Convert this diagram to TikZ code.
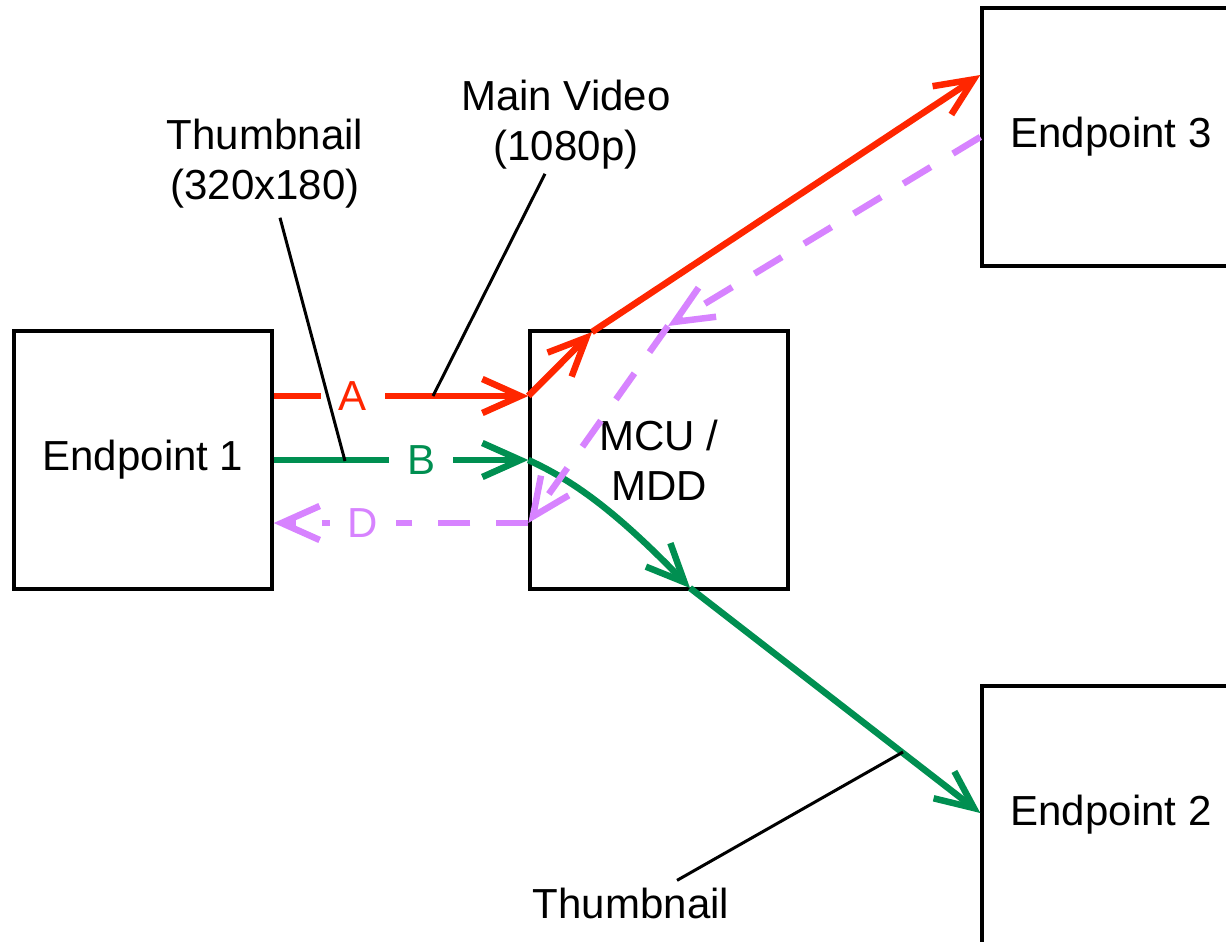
\documentclass[tikz,border=0pt]{standalone}
\usepackage{fontspec}
\setmainfont{Liberation Sans}
\usetikzlibrary{arrows.meta}
\definecolor{streamred}{HTML}{FF2600}
\definecolor{streamgreen}{HTML}{008F51}
\definecolor{streampurple}{HTML}{D783FF}
\begin{document}
\begin{tikzpicture}[x=1pt,y=-1pt,
  every node/.style={font=\fontsize{42}{50}\selectfont},
  box/.style={draw=black, line width=3.4pt, minimum width=258pt,
    minimum height=258pt, inner sep=0pt, align=center},
  note/.style={inner sep=0pt, align=center},
  leader/.style={draw=black, line width=3pt},
  flow/.style={line width=6.5pt,
    -{Straight Barb[length=38pt,width=34pt,line width=6.5pt]}},
  back/.style={flow, dash pattern=on 32pt off 26pt},
  tag/.style={fill=white, inner xsep=18pt, inner ysep=2pt}
]
\clip (0,0) rectangle (1226,942);

% endpoints and the conference unit
\node[box] (e1)  at (143,460)  {Endpoint 1};
\node[box] (mcu) at (659,460)  {MCU /\\MDD};
\node[box] (e3)  at (1111,137) {Endpoint 3};
\node[box] (e2)  at (1111,815) {Endpoint 2};

% stream labels
\node[note] (thumbTop) at (265,164) {Thumbnail\\(320x180)};
\node[note] (mainLbl)  at (566,125) {Main Video\\(1080p)};
\node[note, anchor=base] (thumbBot) at (631,918) {Thumbnail};

% bend points of the forwarded streams
\coordinate (redUp)   at (592,332);
\coordinate (greenDn) at (690,588);
\coordinate (purBend) at (668,326);

% A: main video from endpoint 1, forwarded to endpoint 3
\draw[flow, streamred] ([yshift=64pt]e1.east)
  -- node[tag, pos=0.31, text=streamred] {A} ([yshift=64pt]mcu.west);
\draw[flow, streamred] ([yshift=64pt]mcu.west) -- (redUp);
\draw[flow, streamred] (redUp) -- ([yshift=62pt]e3.west);

% B: thumbnail from endpoint 1, forwarded to endpoint 2
\draw[flow, streamgreen] (e1.east)
  -- node[tag, pos=0.58, text=streamgreen] {B} (mcu.west);
\draw[flow, streamgreen] (mcu.west) .. controls (572,480) and (615,510) .. (greenDn);
\draw[flow, streamgreen] (greenDn) -- ([yshift=2pt]e2.west);

% D: stream from endpoint 3 back to endpoint 1
\draw[back, streampurple] (e3.west) -- (purBend);
\draw[back, streampurple] (purBend) -- ([yshift=-63pt]mcu.west);
\draw[back, streampurple] ([yshift=-63pt]mcu.west)
  -- node[tag, pos=0.65, text=streampurple] {D} ([yshift=-63pt]e1.east);

% callout lines
\coordinate (thumbFoot) at (345,461);
\coordinate (mainFoot)  at (433,396);
\coordinate (botFoot)   at (903,752);
\draw[leader] ([xshift=15pt,yshift=-9pt]thumbTop.south) -- (thumbFoot);
\draw[leader] ([xshift=-21pt,yshift=-4pt]mainLbl.south) -- (mainFoot);
\draw[leader] ([xshift=46pt,yshift=7pt]thumbBot.north) -- (botFoot);
\end{tikzpicture}
\end{document}
